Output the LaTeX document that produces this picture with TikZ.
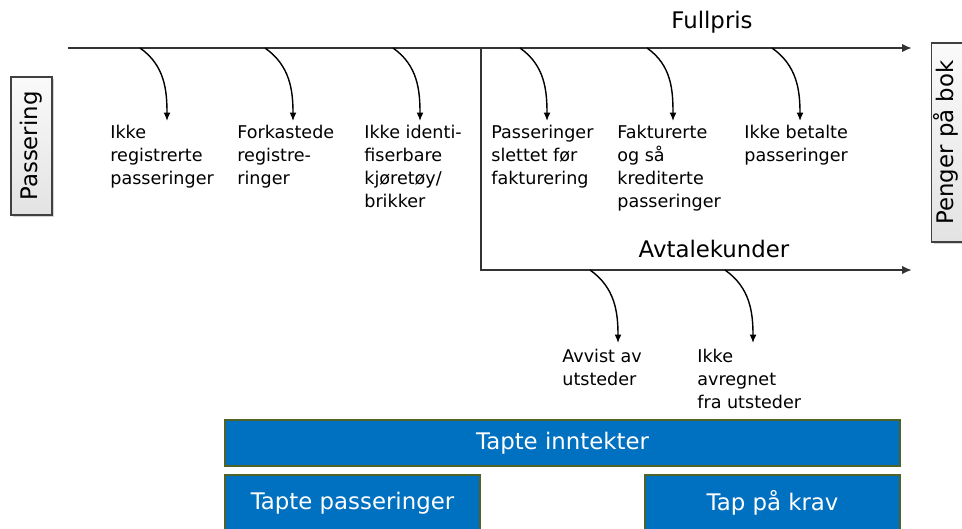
\documentclass[tikz,border=0pt]{standalone}
\usepackage{fontspec}
\setmainfont{DejaVu Sans}
\usetikzlibrary{arrows.meta, positioning, shadows}
\definecolor{tapblue}{RGB}{0,112,192}
\definecolor{tapedge}{RGB}{79,98,40}
\tikzset{
  flow/.style={line width=1.1pt, draw=black!80, -{Latex[length=2mm,width=1.7mm]}},
  drop/.style={line width=0.8pt, -{Latex[length=1.7mm,width=1.4mm]}},
  lbl/.style={anchor=north west, align=left, inner sep=0pt, font=\fontsize{10}{13.1}\selectfont},
  head/.style={anchor=base, inner sep=0pt, font=\fontsize{13}{15}\selectfont},
  sidebox/.style={draw=black!75, line width=0.8pt, top color=gray!4, bottom color=gray!22, rotate=90,
    minimum height=0.82cm, inner sep=0pt, font=\fontsize{13}{15}\selectfont,
    drop shadow={opacity=0.35, shadow xshift=1.2pt, shadow yshift=-1.2pt}},
  lossbox/.style={draw=tapedge, line width=0.8pt, fill=tapblue, text=white, inner sep=0pt,
    font=\fontsize{13}{15}\selectfont}}

\begin{document}
\begin{tikzpicture}[x=0.02cm, y=-0.02cm]
	\useasboundingbox (0,0) rectangle (962,528);
	\coordinate (in) at (68,48);
	\coordinate (out) at (912,48);
	\coordinate (split) at (481,48);
	\coordinate (bend) at (481,270);
	\coordinate (aout) at (912,270);
% main flow and the agreement-customer branch
\draw[flow] (in) -- (out);
\draw[flow] (split) -- (bend) -- (aout);
\node[head] (fullpris) at (712,28) {Fullpris};
\node[head] (avtale) at (714,257) {Avtalekunder};
% side boxes
\node[sidebox, minimum width=2.76cm] (passering) at (31.5,146) {Passering};
\node[sidebox, minimum width=3.98cm, text height=0.35cm, text depth=0.31cm] (bok) at (952,142.5) {Penger på bok};
% drops from the full price line
\foreach \s/\t [count=\i] in {140/167, 265/293, 393/420, 520/547, 647/673, 772/800}{
	\coordinate (s\i) at (\s,48);
	\coordinate (t\i) at (\t,121);
	\draw[drop] (s\i) to[out=-35, in=90] (t\i);
}
\foreach \s/\t [count=\i from 7] in {590/618, 725/753}{
	\coordinate (s\i) at (\s,270);
	\coordinate (t\i) at (\t,343);
	\draw[drop] (s\i) to[out=-35, in=90] (t\i);
}
\node[lbl] (ikkereg) at (110,125) {Ikke\\registrerte\\passeringer};
\node[lbl] (forkast) at (237,125) {Forkastede\\registre-\\ringer};
\node[lbl] (ikkeid) at (364,125) {Ikke identi-\\fiserbare\\kjøretøy/\\brikker};
\node[lbl] (slettet) at (491,125) {Passeringer\\slettet før\\fakturering};
\node[lbl] (kreditert) at (617,125) {Fakturerte\\og så\\krediterte\\passeringer};
\node[lbl] (ikkebet) at (744,125) {Ikke betalte\\passeringer};
\node[lbl] (avvist) at (562,349) {Avvist av\\utsteder};
\node[lbl] (avregnet) at (697,349) {Ikke\\avregnet\\fra utsteder};
% loss boxes
\node[lossbox, minimum width=13.5cm, minimum height=0.92cm] (inntekter) at (562.5,443) {Tapte inntekter};
\node[lossbox, minimum width=5.1cm, minimum height=1.12cm] (tappass) at (352.5,503) {Tapte passeringer};
\node[lossbox, minimum width=5.1cm, minimum height=1.12cm] (krav) at (772.5,503) {Tap på krav};
\end{tikzpicture}
\end{document}
